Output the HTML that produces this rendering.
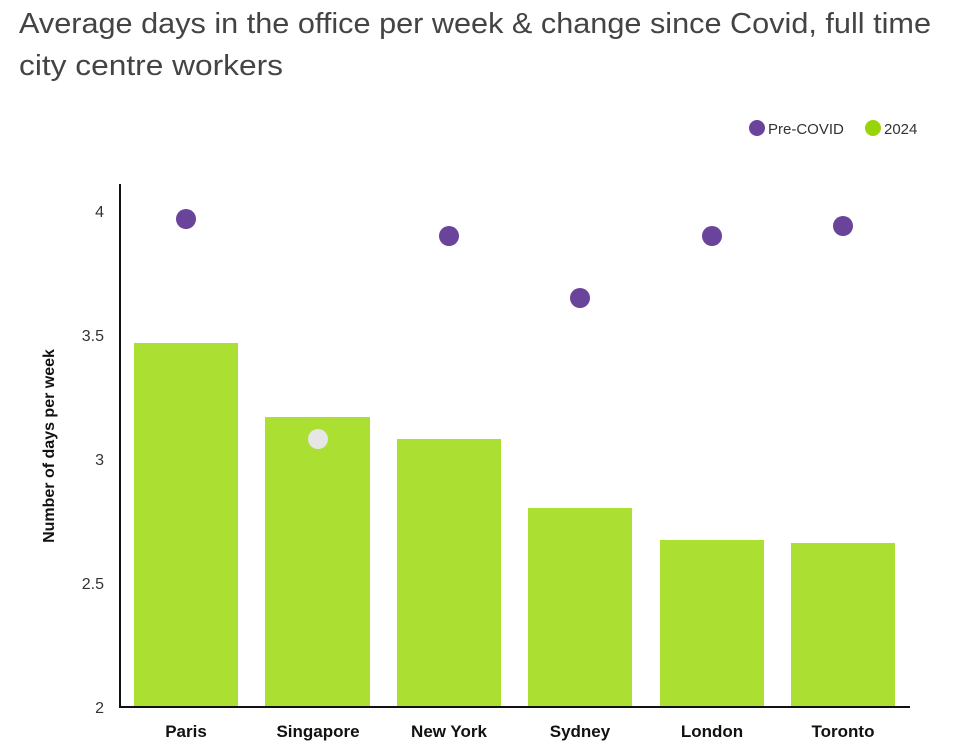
<!DOCTYPE html>
<html><head><meta charset="utf-8"><style>
body{margin:0;background:#fff;width:959px;height:745px;overflow:hidden;font-family:"Liberation Sans",sans-serif}
</style></head><body>
<svg width="959" height="745" xmlns="http://www.w3.org/2000/svg" font-family="Liberation Sans, sans-serif">
<text x="19" y="33" font-size="29" fill="#444" textLength="912" lengthAdjust="spacingAndGlyphs">Average days in the office per week &amp; change since Covid, full time</text>
<text x="19" y="75" font-size="29" fill="#444" textLength="264" lengthAdjust="spacingAndGlyphs">city centre workers</text>
<circle cx="757" cy="128" r="8" fill="#6a439a"/>
<text x="768" y="134" font-size="15" fill="#333">Pre-COVID</text>
<circle cx="873" cy="128" r="8" fill="#98d40a"/>
<text x="884" y="134" font-size="15" fill="#333">2024</text>
<g fill="#abdf32">
<rect x="134" y="343" width="104" height="364"/>
<rect x="265" y="417" width="105" height="290"/>
<rect x="397" y="439" width="104" height="268"/>
<rect x="528" y="508" width="104" height="199"/>
<rect x="660" y="540" width="104" height="167"/>
<rect x="791" y="543" width="104" height="164"/>
</g>
<line x1="120" y1="184" x2="120" y2="708" stroke="#111" stroke-width="2"/>
<line x1="119" y1="707" x2="910" y2="707" stroke="#111" stroke-width="2"/>
<g font-size="16" fill="#333" text-anchor="end">
<text x="104" y="217">4</text><text x="104" y="341">3.5</text><text x="104" y="465">3</text><text x="104" y="589">2.5</text><text x="104" y="713">2</text>
</g>
<text transform="translate(54,446) rotate(-90)" font-size="16" font-weight="bold" fill="#111" text-anchor="middle">Number of days per week</text>
<g font-size="17" font-weight="bold" fill="#111" text-anchor="middle">
<text x="186" y="737">Paris</text><text x="318" y="737">Singapore</text><text x="449" y="737">New York</text><text x="580" y="737">Sydney</text><text x="712" y="737">London</text><text x="843" y="737">Toronto</text>
</g>
<g fill="#6a439a">
<circle cx="186" cy="219" r="10"/><circle cx="449" cy="236" r="10"/><circle cx="580" cy="298" r="10"/><circle cx="712" cy="236" r="10"/><circle cx="843" cy="226" r="10"/>
</g>
<circle cx="318" cy="439" r="10" fill="#e6e6e6"/>
</svg>
</body></html>
